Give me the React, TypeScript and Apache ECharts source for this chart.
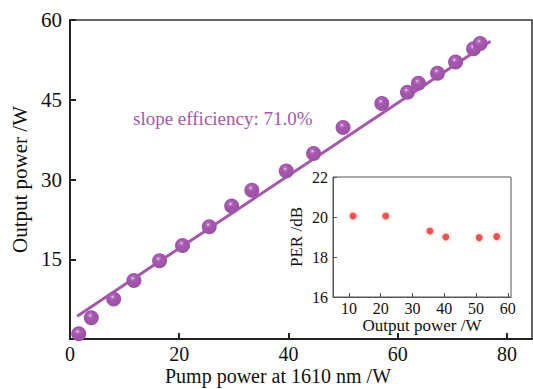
import React, { useEffect, useRef } from "react";
import * as echarts from "echarts";

const pumpPower = [1.6, 3.9, 8.0, 11.7, 16.4, 20.6, 25.5, 29.6, 33.3, 39.6, 44.6, 50.0, 57.1, 61.8, 63.8, 67.3, 70.6, 73.9, 75.1];
const outputPower = [1.0, 4.0, 7.5, 11.0, 14.7, 17.6, 21.1, 25.0, 28.0, 31.6, 34.9, 39.8, 44.3, 46.4, 48.1, 50.0, 52.1, 54.6, 55.6];
const fitX = [1.3, 77.0];
const fitY = [4.3, 56.0];
const slopeText = "slope efficiency: 71.0%";

const insetOutput = [11.3, 21.6, 35.5, 40.5, 51.0, 56.5];
const insetPER = [20.05, 20.05, 19.3, 19.0, 18.97, 19.02];
const insetTicks = [10, 20, 30, 40, 50, 60];

const FONT = "'Liberation Serif', 'DejaVu Serif', serif";
const PURPLE = "#a557ae";

export default function App() {
  const ref = useRef<HTMLDivElement>(null);
  useEffect(() => {
    if (!ref.current) return;
    const chart = echarts.init(ref.current, null, { renderer: "svg" });
    const sphere = new echarts.graphic.RadialGradient(0.42, 0.35, 0.65, [
      { offset: 0, color: "#f3e4f5" },
      { offset: 0.16, color: "#b572be" },
      { offset: 0.38, color: "#a557ae" },
      { offset: 1, color: "#9c50a6" },
    ]);
    chart.setOption({
      animation: false,
      backgroundColor: "#fff",
      textStyle: { fontFamily: FONT },
      grid: [
        { left: 70, top: 20, width: 462, height: 319, show: true, borderColor: "#333", borderWidth: 1.5, z: 0 },
        { left: 333, top: 177, width: 178, height: 120, show: true, backgroundColor: "#fff", borderColor: "#555", borderWidth: 1, z: 10 },
      ],
      xAxis: [
        {
          gridIndex: 0, type: "value", min: 0, max: 84.6, interval: 20,
          axisLine: { lineStyle: { color: "#222", width: 2 } },
          axisTick: { inside: true, length: 6, lineStyle: { color: "#222", width: 2 } },
          axisLabel: { fontFamily: FONT, fontSize: 20, color: "#111", margin: 5, showMaxLabel: false },
          splitLine: { show: false },
        },
        {
          gridIndex: 1, type: "value", min: 5, max: 61, z: 11,
          axisLine: { lineStyle: { color: "#555", width: 1 } },
          axisTick: { inside: true, length: 4, customValues: insetTicks, lineStyle: { color: "#555" } },
          axisLabel: { fontFamily: FONT, fontSize: 16, color: "#111", margin: 3, customValues: insetTicks },
          splitLine: { show: false },
          name: "Output power /W", nameLocation: "middle", nameGap: 19,
          nameTextStyle: { fontFamily: FONT, fontSize: 17, color: "#111" },
        },
      ],
      yAxis: [
        {
          gridIndex: 0, type: "value", min: 0, max: 60, interval: 15,
          axisLine: { lineStyle: { color: "#222", width: 2 } },
          axisTick: { inside: true, length: 6, lineStyle: { color: "#222", width: 2 } },
          axisLabel: { fontFamily: FONT, fontSize: 21, color: "#111", margin: 8, showMinLabel: false },
          splitLine: { show: false },
          name: "Output power /W", nameLocation: "middle", nameGap: 40,
          nameTextStyle: { fontFamily: FONT, fontSize: 21, color: "#111" },
        },
        {
          gridIndex: 1, type: "value", min: 16, max: 22, interval: 2, z: 11,
          axisLine: { lineStyle: { color: "#555", width: 1 } },
          axisTick: { inside: true, length: 4, lineStyle: { color: "#555" } },
          axisLabel: { fontFamily: FONT, fontSize: 16, color: "#111", margin: 5 },
          splitLine: { show: false },
          name: "PER /dB", nameLocation: "middle", nameGap: 28,
          nameTextStyle: { fontFamily: FONT, fontSize: 17, color: "#111" },
        },
      ],
      series: [
        {
          type: "line", xAxisIndex: 0, yAxisIndex: 0, z: 2,
          data: fitX.map((x, i) => [x, fitY[i]]),
          symbol: "none", lineStyle: { color: PURPLE, width: 3 },
        },
        {
          type: "scatter", xAxisIndex: 0, yAxisIndex: 0, z: 3,
          data: pumpPower.map((x, i) => [x, outputPower[i]]),
          symbol: "circle", symbolSize: 15,
          itemStyle: { color: sphere, opacity: 1 },
        },
        {
          type: "scatter", xAxisIndex: 1, yAxisIndex: 1, z: 12,
          data: insetOutput.map((x, i) => [x, insetPER[i]]),
          symbol: "circle", symbolSize: 7,
          itemStyle: { color: "#e8332e", shadowBlur: 4, shadowColor: "rgba(232,51,46,0.4)" },
        },
      ],
      graphic: [
        {
          type: "text", left: 133, top: 109, z: 20,
          style: { text: slopeText, fontFamily: FONT, fontSize: 19, fill: PURPLE },
        },
        {
          type: "text", x: 278, y: 376, z: 20,
          style: { text: "Pump power at 1610 nm /W", fontFamily: FONT, fontSize: 20, fill: "#111", align: "center", verticalAlign: "middle" },
        },
      ],
    });
    return () => chart.dispose();
  }, []);
  return <div ref={ref} style={{ width: 533, height: 389, position: "absolute", left: 0, top: 0 }} />;
}
